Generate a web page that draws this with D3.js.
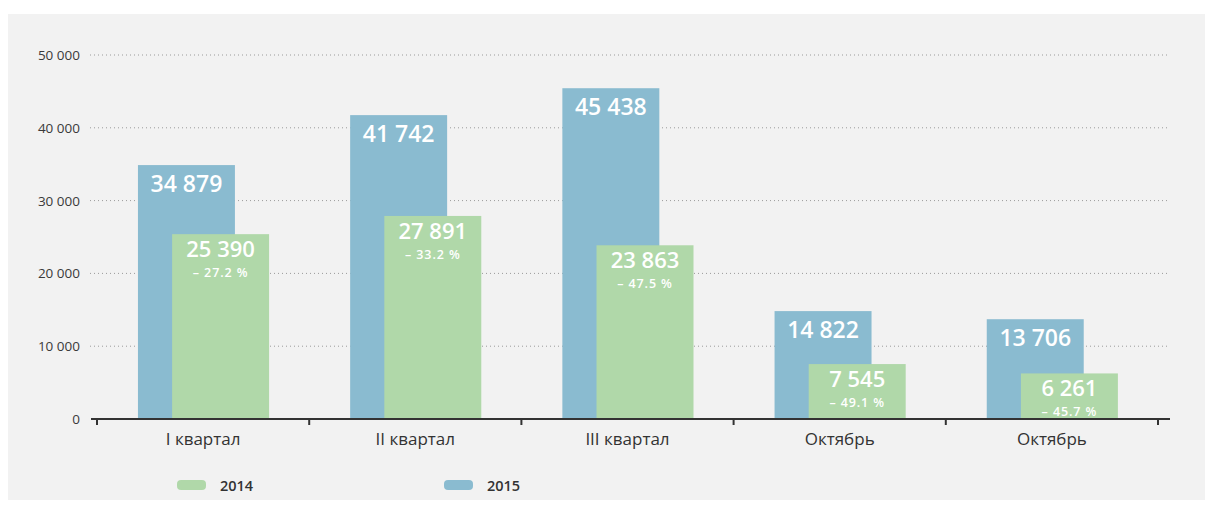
<!DOCTYPE html>
<html>
<head>
<meta charset="utf-8">
<script src="https://cdn.jsdelivr.net/npm/d3@7"></script>
<style>
  body { margin: 0; background: #fff; }
  svg text { font-family: "Open Sans", "DejaVu Sans", sans-serif; }
</style>
</head>
<body>
<svg id="chart" width="1214" height="509"></svg>
<script>
let width = 1214;
let height = 509;

// данные
const categories = ["I квартал", "II квартал", "III квартал", "Октябрь", "Октябрь"];
const values2015 = [34879, 41742, 45438, 14822, 13706];
const values2014 = [25390, 27891, 23863, 7545, 6261];
const changes = ["– 27.2 %", "– 33.2 %", "– 47.5 %", "– 49.1 %", "– 45.7 %"];
const yTicks = [0, 10000, 20000, 30000, 40000, 50000];
const seriesNames = ["2014", "2015"];

const blue = "#8abbd0";
const green = "#b0d8a9";

let svg = d3.select("#chart");

// фон
svg.append("rect")
  .attr("x", 8).attr("y", 14)
  .attr("width", 1197).attr("height", 486)
  .attr("fill", "#f2f2f2");

let x = d3.scaleBand().domain(d3.range(categories.length)).range([97, 1158]);
let y = d3.scaleLinear().domain([0, 50000]).range([419, 55]);
let bw = x.bandwidth();
let fmt = d => d3.format(",")(d).replace(/,/g, " ");

// сетка
svg.append("g")
  .selectAll("line")
  .data(yTicks.filter(d => d > 0))
  .enter()
  .append("line")
  .attr("x1", 90).attr("x2", 1170)
  .attr("y1", d => y(d)).attr("y2", d => y(d))
  .attr("stroke", "#9a9a9a")
  .attr("stroke-width", 1)
  .attr("stroke-dasharray", "1,3");

// подписи оси Y
svg.append("g")
  .selectAll("text")
  .data(yTicks)
  .enter()
  .append("text")
  .attr("x", 80)
  .attr("y", d => y(d) + 5)
  .attr("text-anchor", "end")
  .attr("font-size", 13.5)
  .attr("fill", "#3a3a3a")
  .text(fmt);

// столбцы 2015
svg.append("g")
  .selectAll("rect")
  .data(values2015)
  .enter()
  .append("rect")
  .attr("x", (d, i) => x(i) + bw * 0.193)
  .attr("y", d => y(d))
  .attr("width", bw * 0.457)
  .attr("height", d => y(0) - y(d))
  .attr("fill", blue);

// столбцы 2014
svg.append("g")
  .selectAll("rect")
  .data(values2014)
  .enter()
  .append("rect")
  .attr("x", (d, i) => x(i) + bw * 0.354)
  .attr("y", d => y(d))
  .attr("width", bw * 0.457)
  .attr("height", d => y(0) - y(d))
  .attr("fill", green);

// значения 2015
svg.append("g")
  .selectAll("text")
  .data(values2015)
  .enter()
  .append("text")
  .attr("x", (d, i) => x(i) + bw * (0.193 + 0.457 / 2))
  .attr("y", d => y(d) + 27)
  .attr("text-anchor", "middle")
  .attr("font-size", 23)
  .attr("font-weight", 600)
  .attr("fill", "#fff")
  .text(fmt);

// значения 2014 и изменение
let g14 = svg.append("g");
g14.selectAll("text.v")
  .data(values2014)
  .enter()
  .append("text")
  .attr("class", "v")
  .attr("x", (d, i) => x(i) + bw * (0.354 + 0.457 / 2))
  .attr("y", d => y(d) + 23)
  .attr("text-anchor", "middle")
  .attr("font-size", 22)
  .attr("font-weight", 600)
  .attr("fill", "#fff")
  .text(fmt);

g14.selectAll("text.p")
  .data(values2014)
  .enter()
  .append("text")
  .attr("class", "p")
  .attr("x", (d, i) => x(i) + bw * (0.354 + 0.457 / 2))
  .attr("y", d => y(d) + 43)
  .attr("text-anchor", "middle")
  .attr("font-size", 12.5)
  .attr("font-weight", 600)
  .attr("letter-spacing", 0.9)
  .attr("fill", "#fff")
  .text((d, i) => changes[i]);

// ось X
svg.append("line")
  .attr("x1", 91).attr("x2", 1170)
  .attr("y1", y(0)).attr("y2", y(0))
  .attr("stroke", "#333")
  .attr("stroke-width", 2);

svg.append("g")
  .selectAll("line")
  .data(d3.range(categories.length + 1))
  .enter()
  .append("line")
  .attr("x1", i => 97 + i * bw).attr("x2", i => 97 + i * bw)
  .attr("y1", y(0)).attr("y2", y(0) + 6)
  .attr("stroke", "#333")
  .attr("stroke-width", 2);

svg.append("g")
  .selectAll("text")
  .data(categories)
  .enter()
  .append("text")
  .attr("x", (d, i) => x(i) + bw / 2)
  .attr("y", 445)
  .attr("text-anchor", "middle")
  .attr("font-size", 17)
  .attr("fill", "#333")
  .text(d => d);

// легенда
let legend = svg.append("g")
  .selectAll("g")
  .data(seriesNames)
  .enter()
  .append("g")
  .attr("transform", (d, i) => `translate(${177 + i * 267},485)`);

legend.append("rect")
  .attr("x", 0).attr("y", -5)
  .attr("width", 29).attr("height", 10)
  .attr("rx", 4)
  .attr("fill", (d, i) => i === 0 ? green : blue);

legend.append("text")
  .attr("x", 43).attr("y", 5.5)
  .attr("font-size", 14.5)
  .attr("font-weight", 600)
  .attr("fill", "#333")
  .text(d => d);
</script>
</body>
</html>
